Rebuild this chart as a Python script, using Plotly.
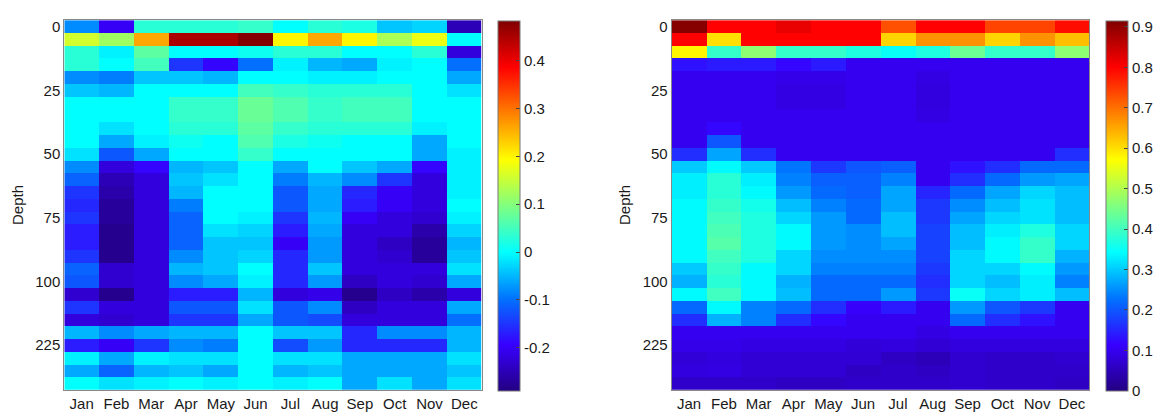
import plotly.graph_objects as go

months = ["Jan", "Feb", "Mar", "Apr", "May", "Jun", "Jul", "Aug", "Sep", "Oct", "Nov", "Dec"]
depth_rows = list(range(29))
depth_tickvals = [0, 5, 10, 15, 20, 25]
depth_ticktext = ["0", "25", "50", "75", "100", "225"]

left_values = [
    [-0.08, -0.20, 0.03, 0.03, 0.03, 0.04, 0.00, 0.03, 0.02, -0.04, -0.03, -0.25],
    [0.16, 0.12, 0.26, 0.45, 0.45, 0.48, 0.20, 0.26, 0.20, 0.13, 0.18, 0.00],
    [0.03, -0.01, 0.07, 0.00, 0.00, 0.01, 0.03, 0.03, 0.00, 0.00, 0.03, -0.22],
    [0.03, 0.00, 0.05, -0.15, -0.19, -0.10, -0.01, -0.05, -0.06, -0.01, 0.00, -0.10],
    [-0.08, -0.09, -0.04, -0.04, -0.05, 0.00, 0.00, -0.01, -0.01, 0.00, 0.00, -0.06],
    [-0.04, -0.05, 0.00, 0.00, 0.00, 0.05, 0.04, 0.03, 0.03, 0.03, 0.00, -0.02],
    [0.00, 0.00, 0.00, 0.04, 0.04, 0.08, 0.06, 0.04, 0.05, 0.05, 0.00, 0.00],
    [0.00, 0.00, 0.00, 0.04, 0.04, 0.08, 0.06, 0.04, 0.05, 0.05, 0.00, 0.00],
    [0.00, -0.02, 0.00, 0.03, 0.03, 0.07, 0.04, 0.03, 0.03, 0.03, -0.01, 0.00],
    [0.00, -0.06, -0.01, 0.01, 0.00, 0.06, 0.02, 0.01, 0.00, 0.00, -0.06, 0.00],
    [-0.02, -0.12, -0.06, 0.00, 0.00, 0.04, 0.00, 0.00, 0.00, 0.00, -0.06, -0.01],
    [-0.08, -0.22, -0.19, -0.05, -0.04, 0.00, -0.06, 0.00, -0.04, -0.06, -0.19, -0.01],
    [-0.11, -0.25, -0.22, -0.04, -0.02, 0.00, -0.09, -0.05, -0.08, -0.15, -0.22, -0.01],
    [-0.15, -0.26, -0.22, -0.05, 0.00, 0.00, -0.12, -0.06, -0.16, -0.20, -0.22, -0.01],
    [-0.16, -0.27, -0.22, -0.09, 0.00, 0.00, -0.12, -0.06, -0.17, -0.20, -0.22, 0.00],
    [-0.15, -0.27, -0.22, -0.11, 0.00, -0.01, -0.15, -0.05, -0.20, -0.22, -0.23, -0.01],
    [-0.17, -0.28, -0.22, -0.11, -0.02, -0.03, -0.17, -0.06, -0.22, -0.22, -0.26, -0.03],
    [-0.17, -0.28, -0.22, -0.11, -0.04, -0.04, -0.20, -0.07, -0.22, -0.24, -0.27, -0.05],
    [-0.15, -0.28, -0.22, -0.08, -0.04, -0.03, -0.16, -0.07, -0.22, -0.23, -0.27, -0.04],
    [-0.11, -0.23, -0.22, -0.05, -0.04, 0.00, -0.16, -0.04, -0.22, -0.22, -0.22, -0.02],
    [-0.12, -0.23, -0.22, -0.08, -0.06, -0.01, -0.16, -0.07, -0.24, -0.22, -0.23, -0.06],
    [-0.23, -0.28, -0.22, -0.17, -0.17, -0.05, -0.22, -0.21, -0.28, -0.24, -0.26, -0.22],
    [-0.15, -0.22, -0.22, -0.12, -0.12, -0.02, -0.12, -0.08, -0.24, -0.22, -0.22, -0.06],
    [-0.22, -0.23, -0.22, -0.15, -0.15, -0.06, -0.12, -0.13, -0.22, -0.22, -0.22, -0.10],
    [-0.05, -0.08, -0.06, -0.05, -0.05, 0.00, -0.04, -0.04, -0.16, -0.08, -0.08, -0.05],
    [-0.17, -0.20, -0.15, -0.08, -0.09, 0.00, -0.13, -0.07, -0.16, -0.16, -0.16, -0.05],
    [-0.01, -0.06, -0.01, -0.02, -0.02, 0.00, -0.02, -0.02, -0.06, -0.06, -0.06, -0.02],
    [-0.06, -0.11, -0.05, -0.04, -0.06, 0.00, -0.05, -0.04, -0.06, -0.06, -0.06, -0.04],
    [0.00, -0.02, -0.01, 0.00, -0.01, 0.00, -0.01, 0.00, -0.06, -0.02, -0.06, -0.02],
]

right_values = [
    [0.91, 0.80, 0.80, 0.82, 0.80, 0.80, 0.73, 0.80, 0.80, 0.74, 0.74, 0.79],
    [0.80, 0.60, 0.80, 0.80, 0.80, 0.80, 0.61, 0.67, 0.67, 0.61, 0.67, 0.63],
    [0.58, 0.39, 0.47, 0.39, 0.39, 0.37, 0.35, 0.37, 0.44, 0.39, 0.39, 0.47],
    [0.13, 0.14, 0.14, 0.12, 0.14, 0.10, 0.10, 0.10, 0.10, 0.10, 0.10, 0.10],
    [0.10, 0.10, 0.10, 0.095, 0.095, 0.10, 0.10, 0.09, 0.10, 0.10, 0.10, 0.10],
    [0.10, 0.10, 0.10, 0.09, 0.09, 0.10, 0.10, 0.085, 0.10, 0.10, 0.10, 0.10],
    [0.10, 0.10, 0.10, 0.09, 0.09, 0.10, 0.10, 0.085, 0.10, 0.10, 0.10, 0.10],
    [0.10, 0.10, 0.10, 0.10, 0.10, 0.10, 0.10, 0.09, 0.10, 0.10, 0.10, 0.10],
    [0.10, 0.12, 0.10, 0.10, 0.10, 0.10, 0.10, 0.10, 0.10, 0.10, 0.10, 0.10],
    [0.10, 0.20, 0.10, 0.10, 0.10, 0.10, 0.10, 0.10, 0.10, 0.10, 0.10, 0.10],
    [0.16, 0.27, 0.16, 0.10, 0.10, 0.10, 0.10, 0.10, 0.10, 0.10, 0.10, 0.16],
    [0.30, 0.34, 0.30, 0.23, 0.17, 0.20, 0.21, 0.10, 0.13, 0.16, 0.22, 0.22],
    [0.33, 0.38, 0.33, 0.24, 0.21, 0.21, 0.24, 0.10, 0.16, 0.22, 0.26, 0.27],
    [0.33, 0.38, 0.34, 0.26, 0.22, 0.21, 0.27, 0.15, 0.22, 0.27, 0.31, 0.29],
    [0.34, 0.39, 0.36, 0.29, 0.24, 0.22, 0.27, 0.17, 0.25, 0.29, 0.32, 0.29],
    [0.34, 0.40, 0.37, 0.31, 0.26, 0.22, 0.29, 0.17, 0.27, 0.31, 0.32, 0.29],
    [0.34, 0.41, 0.37, 0.34, 0.26, 0.25, 0.29, 0.18, 0.29, 0.33, 0.37, 0.31],
    [0.34, 0.42, 0.37, 0.34, 0.26, 0.25, 0.27, 0.18, 0.29, 0.34, 0.39, 0.31],
    [0.34, 0.40, 0.37, 0.31, 0.25, 0.25, 0.25, 0.18, 0.31, 0.34, 0.39, 0.28],
    [0.30, 0.39, 0.34, 0.31, 0.24, 0.24, 0.24, 0.17, 0.31, 0.31, 0.34, 0.26],
    [0.28, 0.38, 0.34, 0.28, 0.22, 0.22, 0.22, 0.16, 0.31, 0.29, 0.33, 0.24],
    [0.34, 0.40, 0.34, 0.29, 0.22, 0.22, 0.26, 0.17, 0.35, 0.31, 0.33, 0.29],
    [0.22, 0.34, 0.24, 0.22, 0.16, 0.11, 0.14, 0.10, 0.26, 0.20, 0.17, 0.10],
    [0.16, 0.28, 0.24, 0.16, 0.12, 0.10, 0.10, 0.10, 0.22, 0.16, 0.13, 0.10],
    [0.10, 0.10, 0.10, 0.10, 0.10, 0.10, 0.10, 0.09, 0.10, 0.10, 0.10, 0.10],
    [0.095, 0.095, 0.09, 0.09, 0.09, 0.08, 0.085, 0.075, 0.085, 0.085, 0.085, 0.085],
    [0.08, 0.085, 0.075, 0.075, 0.075, 0.075, 0.06, 0.05, 0.07, 0.065, 0.065, 0.07],
    [0.085, 0.09, 0.075, 0.075, 0.075, 0.06, 0.065, 0.06, 0.07, 0.065, 0.065, 0.065],
    [0.065, 0.065, 0.065, 0.06, 0.06, 0.065, 0.065, 0.065, 0.07, 0.065, 0.065, 0.06],
]

left_range = [-0.29, 0.483]
right_range = [0.0, 0.915]
left_cbar_ticks = [-0.2, -0.1, 0, 0.1, 0.2, 0.3, 0.4]
right_cbar_ticks = [0, 0.1, 0.2, 0.3, 0.4, 0.5, 0.6, 0.7, 0.8, 0.9]

jet_like = [
    [0.0, "rgb(35,0,130)"],
    [0.125, "rgb(55,0,255)"],
    [0.25, "rgb(0,115,255)"],
    [0.375, "rgb(0,255,255)"],
    [0.5, "rgb(128,255,128)"],
    [0.625, "rgb(255,255,0)"],
    [0.75, "rgb(255,128,0)"],
    [0.875, "rgb(255,0,0)"],
    [1.0, "rgb(128,0,0)"],
]

W, H = 1160, 412
FONT = "Liberation Sans, Arial, sans-serif"
top_px, bot_px = 18.3, 390.7


def cbar(x_px, ticks):
    return dict(
        x=x_px / W, xanchor="left", xref="paper", xpad=0, ypad=0,
        y=1 - 19 / H, yanchor="top", len=(391.7 - 19) / H, lenmode="fraction",
        thickness=22, thicknessmode="pixels",
        outlinewidth=1, outlinecolor="#777777",
        tickvals=ticks, ticktext=[("%g" % t) for t in ticks],
        ticks="inside", ticklen=4, tickcolor="#444444",
        tickfont=dict(family=FONT, size=15, color="#1a1a1a"),
    )


fig = go.Figure()
fig.add_trace(go.Heatmap(
    z=left_values, x=months, y=depth_rows, colorscale=jet_like,
    zmin=left_range[0], zmax=left_range[1], xaxis="x", yaxis="y",
    colorbar=cbar(498.3, left_cbar_ticks), xgap=0, ygap=0,
))
fig.add_trace(go.Heatmap(
    z=right_values, x=months, y=depth_rows, colorscale=jet_like,
    zmin=right_range[0], zmax=right_range[1], xaxis="x2", yaxis="y2",
    colorbar=cbar(1106, right_cbar_ticks), xgap=0, ygap=0,
))

axis_common = dict(showline=True, mirror=True, linecolor="#888888", linewidth=1,
                   showgrid=False, zeroline=False, ticks="",
                   tickfont=dict(family=FONT, size=15, color="#1a1a1a"))
ydom = [1 - bot_px / H, 1 - top_px / H]

fig.update_layout(
    width=W, height=H, margin=dict(l=0, r=0, t=0, b=0),
    paper_bgcolor="white", plot_bgcolor="white",
    font=dict(family=FONT, size=15, color="#1a1a1a"),
    xaxis=dict(domain=[64.3 / W, 481.7 / W], anchor="y", **axis_common),
    yaxis=dict(domain=ydom, anchor="x", autorange="reversed",
               tickvals=depth_tickvals, ticktext=depth_ticktext,
               title=dict(text="Depth", font=dict(family=FONT, size=15), standoff=8),
               **axis_common),
    xaxis2=dict(domain=[671.7 / W, 1089.3 / W], anchor="y2", **axis_common),
    yaxis2=dict(domain=ydom, anchor="x2", autorange="reversed",
                tickvals=depth_tickvals, ticktext=depth_ticktext,
                title=dict(text="Depth", font=dict(family=FONT, size=15), standoff=8),
                **axis_common),
)

fig.write_html(
    "out.html",
    config={"displayModeBar": False},
    post_script="document.body.style.margin='0';document.body.style.padding='0';"
                "document.body.style.overflow='hidden';",
)
